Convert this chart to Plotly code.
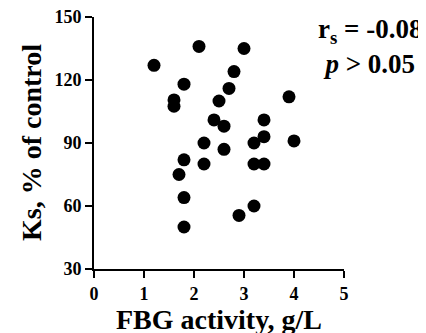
import plotly.graph_objects as go

fbg_activity = [2.1, 1.2, 1.8, 1.6, 1.6, 2.5, 2.4, 2.2, 1.8, 2.2, 1.7, 1.8, 1.8,
                3.0, 2.8, 2.7, 3.9, 2.6, 3.4, 3.4, 3.2, 4.0, 2.6, 3.2, 3.4, 3.2, 2.9]
ks_percent = [136, 127, 118, 110.5, 107.5, 110, 101, 90, 82, 80, 75, 64, 50,
              135, 124, 116, 112, 98, 101, 93, 90, 91, 87, 80, 80, 60, 55.5]
x_ticks = [0, 1, 2, 3, 4, 5]
y_ticks = [30, 60, 90, 120, 150]

FONT = "Liberation Serif"

fig = go.Figure(go.Scatter(
    x=fbg_activity, y=ks_percent, mode="markers",
    marker=dict(color="black", size=13, line=dict(width=0)),
    showlegend=False,
))

axis_common = dict(
    showline=True, linecolor="black", linewidth=2,
    ticks="outside", tickcolor="black", tickwidth=2, ticklen=7,
    showgrid=False, zeroline=False, automargin=False,
    ticklabeloverflow="allow",
    tickfont=dict(family=FONT, size=18, color="black", weight="bold"),
)

fig.update_xaxes(range=[0, 5], tickvals=x_ticks, **axis_common,
                 title=dict(text="FBG activity, g/L", standoff=5,
                            font=dict(family=FONT, size=28, color="black", weight="bold")))
fig.update_yaxes(range=[30, 150], tickvals=y_ticks, **axis_common)

fig.add_annotation(
    xref="paper", yref="paper", x=-0.252, y=0.5, xanchor="center", yanchor="middle",
    text="<b>Ks, % of control</b>", textangle=-90, showarrow=False,
    font=dict(family=FONT, size=28, color="black"),
)

fig.add_annotation(
    xref="paper", yref="paper", x=1.32, y=1.02, xanchor="right", yanchor="top",
    text="<b>r<sub>s</sub> = -0.08</b><br><b><i>p</i> &gt; 0.05</b>",
    showarrow=False, align="center",
    font=dict(family=FONT, size=27, color="black"),
)

fig.update_layout(
    width=426, height=333,
    margin=dict(l=86, r=90, t=9, b=72),
    paper_bgcolor="white", plot_bgcolor="white",
)

fig.write_html("out.html")
